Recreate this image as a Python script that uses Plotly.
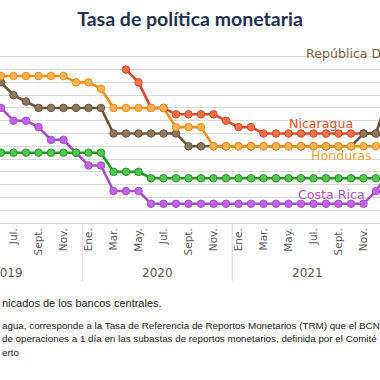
import plotly.graph_objects as go

# Month index 0 = Ene. 2019 ... 36 = Ene. 2022
month_names = ["Ene.", "Feb.", "Mar.", "Abr.", "May.", "Jun.",
               "Jul.", "Ago.", "Sept.", "Oct.", "Nov.", "Dic."]
years = ["2019", "2020", "2021", "2022"]
n_months = 37
idx = list(range(n_months))

costa_rica = [5.25, 5.25, 5.25, 5.0, 4.75, 4.5, 4.0, 4.0, 3.75, 3.25, 3.25, 2.75,
              2.25, 2.25, 1.25, 1.25, 1.25, 0.75, 0.75, 0.75, 0.75, 0.75, 0.75, 0.75,
              0.75, 0.75, 0.75, 0.75, 0.75, 0.75, 0.75, 0.75, 0.75, 0.75, 0.75, 1.25,
              2.0]
guatemala = [2.75] * 12 + [2.75, 2.75, 2.0, 2.0, 2.0, 1.75, 1.75, 1.75, 1.75, 1.75, 1.75, 1.75] \
    + [1.75] * 12 + [1.75]
honduras = [5.75] * 11 + [5.5] \
    + [5.5, 5.25, 4.5, 4.5, 4.5, 4.5, 4.5, 3.75, 3.75, 3.75, 3.0, 3.0] \
    + [3.0] * 12 + [3.0]
dominicana = [5.5] * 6 + [5.0, 4.75, 4.5, 4.5, 4.5, 4.5] \
    + [4.5, 4.5, 3.5, 3.5, 3.5, 3.5, 3.5, 3.5, 3.0, 3.0, 3.0, 3.0] \
    + [3.0] * 10 + [3.5, 3.5] + [5.0]
nicaragua = [None] * 12 \
    + [None, None, None, 6.0, 5.5, 4.5, 4.5, 4.25, 4.25, 4.25, 4.25, 4.0] \
    + [3.75, 3.75] + [3.5] * 10 + [3.5]

series = [
    ("Costa Rica", costa_rica, "#A64DC9", "#C264E6"),
    ("Nicaragua", nicaragua, "#D9482B", "#F2714D"),
    ("República Dominicana", dominicana, "#6B5336", "#8E7760"),
    ("Honduras", honduras, "#F28C0F", "#F7B356"),
    ("Guatemala", guatemala, "#1F9A1F", "#55C455"),
]

fig = go.Figure()
for name, vals, lc, fc in series:
    fig.add_trace(go.Scatter(
        x=idx, y=vals, mode="lines+markers", name=name,
        line=dict(color=lc, width=2.6),
        marker=dict(size=7.5, color=fc, line=dict(color=lc, width=1)),
        connectgaps=False, showlegend=False, cliponaxis=True))

tick_vals = [i for i in idx if i % 2 == 0]
tick_text = [month_names[i % 12] for i in tick_vals]

FONT = "DejaVu Sans"
x0, x1 = 4.92, 35.32
fig.update_layout(
    width=380, height=380,
    margin=dict(l=0, r=0, t=44, b=157),
    paper_bgcolor="white", plot_bgcolor="white",
    title=dict(text="<b>Tasa de política monetaria</b>", x=0.5, xanchor="center",
               y=1 - 19 / 380, yanchor="middle",
               font=dict(family="Lato", size=19.5, color="#1F3350")),
    xaxis=dict(range=[x0, x1], tickmode="array", tickvals=tick_vals, ticktext=tick_text,
               tickangle=-90, showgrid=False, zeroline=False, showline=True,
               linecolor="#D9D9D9", linewidth=1, ticks="", automargin=False,
               tickfont=dict(family=FONT, size=10.5, color="#595959")),
    yaxis=dict(range=[0, 7], dtick=0.5, showgrid=True, gridcolor="#D9D9D9", gridwidth=1.3,
               showticklabels=False, zeroline=False, showline=False, automargin=False),
)

# year group labels and dividers
plot_h = 380 - 44 - 157
for k, yr in enumerate(years[:3]):
    fig.add_annotation(x=5.5 + 12 * k, y=-50 / plot_h, xref="x", yref="paper",
                       text=yr, showarrow=False, yanchor="middle",
                       font=dict(family=FONT, size=12, color="#595959"))
for sep in [11.5, 23.5]:
    fig.add_shape(type="line", xref="x", yref="paper", x0=sep, x1=sep,
                  y0=0, y1=-58 / plot_h, line=dict(color="#D9D9D9", width=1))

# series labels
labels = [
    ("República D", 29.26, 6.63, "#7A6345"),
    ("Nicaragua", 27.9, 3.9, "#E0502A"),
    ("Honduras", 29.66, 2.65, "#F5A030"),
    ("Costa Rica", 28.62, 1.125, "#B050D0"),
]
for txt, lx, ly, col in labels:
    fig.add_annotation(x=lx, y=ly, xref="x", yref="y", text=txt, showarrow=False,
                       xanchor="left", yanchor="middle",
                       font=dict(family=FONT, size=12.6, color=col))

# source and notes (visible part), positions given in page pixels
notes = [
    ("nicados de los bancos centrales.", 303, 11),
    ("agua, corresponde a la Tasa de Referencia de Reportos Monetarios (TRM) que el BCN", 325, 9.8),
    ("de operaciones a 1 día en las subastas de reportos monetarios, definida por el Comité d", 338.5, 9.8),
    ("erto", 352, 9.8),
]
for txt, py, fs in notes:
    fig.add_annotation(x=0, y=(380 - 157 - py) / plot_h, xref="paper", yref="paper",
                       text=txt, showarrow=False, xanchor="left", yanchor="middle",
                       font=dict(family="Liberation Sans", size=fs, color="#1A1A1A"))

fig.write_html("out.html", config={"displayModeBar": False},
               post_script="document.body.style.margin='0px';")
